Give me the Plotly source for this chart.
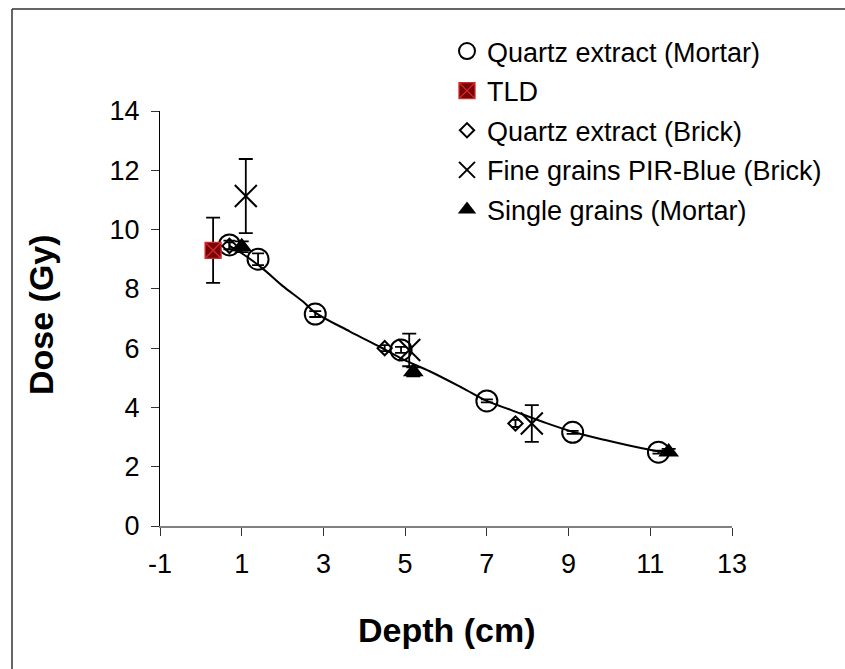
import plotly.graph_objects as go

# Dose versus depth, by dosimeter / sample type
qm_x = [0.7, 1.4, 2.8, 4.9, 7.0, 9.1, 11.2]          # Quartz extract (Mortar)
qm_y = [9.48, 9.0, 7.15, 5.94, 4.22, 3.16, 2.49]
qm_err = [0.15, 0.2, 0.1, 0.1, 0.05, 0.05, 0.05]

tld_x = [0.3]                                         # TLD
tld_y = [9.3]
tld_err = [1.1]

qb_x = [0.7, 4.5, 7.7]                                # Quartz extract (Brick)
qb_y = [9.45, 6.0, 3.46]
qb_err = [0.12, 0.1, 0.12]

fg_x = [1.1, 5.1, 8.1]                                # Fine grains PIR-Blue (Brick)
fg_y = [11.13, 5.94, 3.46]
fg_err = [1.25, 0.55, 0.62]

sg_x = [1.0, 5.2, 11.45]                              # Single grains (Mortar)
sg_y = [9.42, 5.2, 2.5]
sg_err = [0.18, 0.15, 0.1]

# fitted depth-dose curve
fit_x = [0.7, 1.0, 1.5, 2.0, 2.5, 2.8, 3.65, 4.4, 4.95, 5.6, 6.4, 7.0, 7.6, 8.4, 9.1, 9.9, 10.8, 11.45]
fit_y = [9.45, 9.2, 8.7, 8.1, 7.57, 7.2, 6.56, 6.03, 5.62, 5.22, 4.66, 4.22, 3.91, 3.5, 3.18, 2.9, 2.62, 2.45]

x_ticks = [-1, 1, 3, 5, 7, 9, 11, 13]
x_labels = ["-1", "1", "3", "5", "7", "9", "11", "13"]
y_ticks = [0, 2, 4, 6, 8, 10, 12, 14]
y_labels = ["0", "2", "4", "6", "8", "10", "12", "14"]

FONT = "Arial, 'Liberation Sans', sans-serif"


def err(vals, w):
    return dict(type="data", array=vals, visible=True, color="black", thickness=1.8, width=w)


fig = go.Figure()

fig.add_trace(go.Scatter(
    x=fit_x, y=fit_y, mode="lines", line=dict(color="black", width=2, shape="spline"),
    showlegend=False, hoverinfo="skip"))

fig.add_trace(go.Scatter(
    x=qm_x, y=qm_y, mode="markers", name="Quartz extract (Mortar)", legendgroup="a",
    error_y=err(qm_err, 6),
    marker=dict(symbol="circle-open", size=21, color="black", line=dict(width=2, color="black"))))

fig.add_trace(go.Scatter(
    x=tld_x, y=tld_y, mode="markers", name="TLD", legendgroup="b",
    error_y=err(tld_err, 7),
    marker=dict(symbol="square-x", size=16, color="#780505", line=dict(width=1.3, color="#d42a2a"))))

fig.add_trace(go.Scatter(
    x=qb_x, y=qb_y, mode="markers", name="Quartz extract (Brick)", legendgroup="c",
    error_y=err(qb_err, 4),
    marker=dict(symbol="diamond-open", size=11, color="black", line=dict(width=2, color="black"))))

fig.add_trace(go.Scatter(
    x=fg_x, y=fg_y, mode="markers", name="Fine grains PIR-Blue (Brick)", legendgroup="d",
    error_y=err(fg_err, 7),
    marker=dict(symbol="x-thin-open", size=22, color="black", line=dict(width=2, color="black"))))

fig.add_trace(go.Scatter(
    x=sg_x, y=sg_y, mode="markers", name="Single grains (Mortar)", legendgroup="e",
    error_y=err(sg_err, 7),
    marker=dict(symbol="triangle-up", size=18, color="black", line=dict(width=0))))

L, R, T, B = 160, 113, 111, 143
W, H = 845, 669
pw, ph = W - L - R, H - T - B


def px_x(p):
    return (p - L) / pw


def px_y(p):
    return (H - B - p) / ph


fig.update_layout(
    width=W, height=H,
    margin=dict(l=L, r=R, t=T, b=B),
    paper_bgcolor="white", plot_bgcolor="white",
    font=dict(family=FONT, size=27, color="black"),
    xaxis=dict(range=[-1, 13], tickvals=x_ticks, ticktext=x_labels, showgrid=False, zeroline=False,
               showline=True, linecolor="#808080", linewidth=1.5,
               ticks="outside", ticklen=8, tickcolor="#333333", tickwidth=1,
               tickfont=dict(size=27), ticklabelstandoff=5),
    yaxis=dict(range=[0, 14], tickvals=y_ticks, ticktext=y_labels, showgrid=False, zeroline=False,
               showline=True, linecolor="black", linewidth=1.2,
               ticks="outside", ticklen=8, tickcolor="#333333", tickwidth=1,
               tickfont=dict(size=27), ticklabelstandoff=6),
    legend=dict(x=px_x(447), y=px_y(27), xanchor="left", yanchor="top",
                bgcolor="rgba(0,0,0,0)", borderwidth=0,
                traceorder="grouped", tracegroupgap=1.5,
                font=dict(family=FONT, size=27, color="black")),
    annotations=[
        dict(text="<b>Dose (Gy)</b>", xref="paper", yref="paper",
             x=px_x(41), y=px_y(315), textangle=-90, showarrow=False,
             xanchor="center", yanchor="middle", font=dict(family=FONT, size=34)),
        dict(text="<b>Depth (cm)</b>", xref="paper", yref="paper",
             x=px_x(447), y=px_y(630), showarrow=False,
             xanchor="center", yanchor="middle", font=dict(family=FONT, size=34)),
    ],
    shapes=[
        dict(type="line", xref="paper", yref="paper", x0=px_x(12), x1=px_x(12),
             y0=px_y(9), y1=px_y(H), line=dict(color="#333333", width=1.5)),
        dict(type="line", xref="paper", yref="paper", x0=px_x(12), x1=px_x(W),
             y0=px_y(9), y1=px_y(9), line=dict(color="#333333", width=1.5)),
    ],
)

fig.write_html("out.html")
